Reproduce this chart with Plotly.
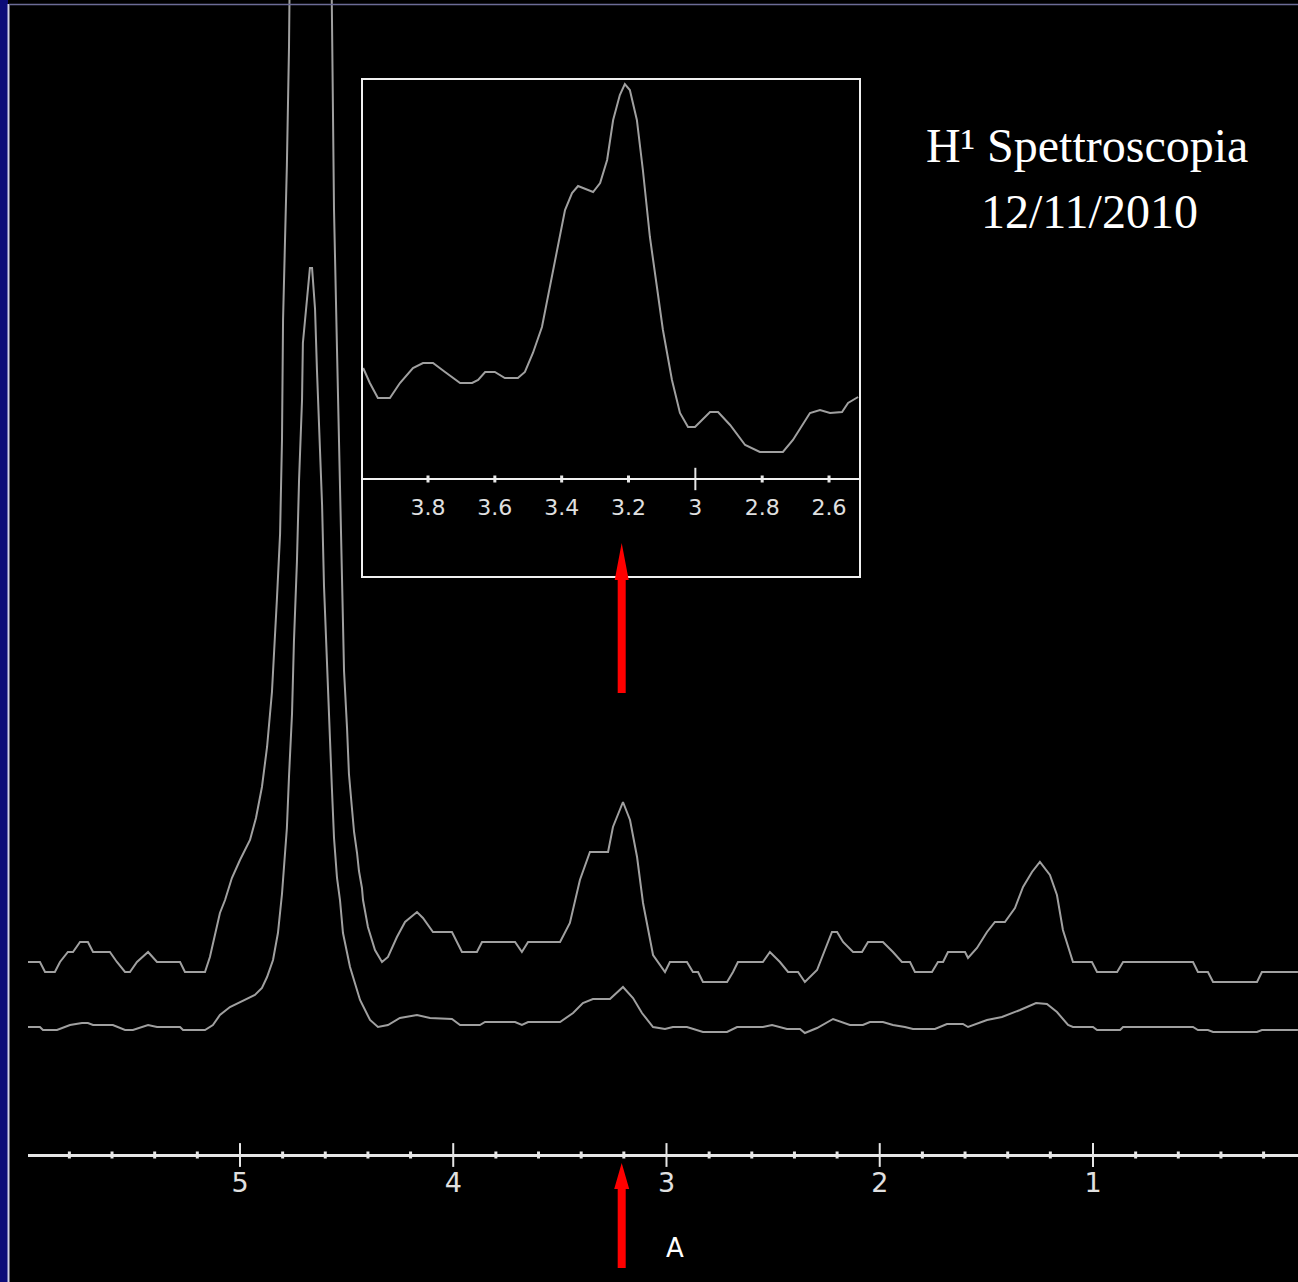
import plotly.graph_objects as go

# Upper (scaled) spectrum: chemical shift (ppm) and intensity (a.u.)
upper_ppm = [5.994, 5.938, 5.914, 5.868, 5.844, 5.807, 5.783, 5.750, 5.713, 5.689,
             5.610, 5.577, 5.539, 5.516, 5.483, 5.431, 5.389, 5.281, 5.258, 5.164,
             5.141, 5.117, 5.094, 5.070, 5.038, 5.000, 4.953, 4.925, 4.897, 4.873,
             4.850, 4.827, 4.812, 4.803, 4.798, 4.780, 4.770, 4.672, 4.569, 4.559,
             4.545, 4.531, 4.522, 4.512, 4.498, 4.489, 4.475, 4.465, 4.451, 4.442,
             4.428, 4.423, 4.400, 4.367, 4.334, 4.306, 4.264, 4.226, 4.170, 4.142,
             4.095, 4.006, 3.959, 3.889, 3.865, 3.710, 3.678, 3.649, 3.499, 3.453,
             3.406, 3.359, 3.274, 3.251, 3.204, 3.171, 3.138, 3.110, 3.063, 3.007,
             2.984, 2.904, 2.876, 2.852, 2.829, 2.716, 2.688, 2.665, 2.548, 2.515,
             2.468, 2.430, 2.383, 2.351, 2.294, 2.224, 2.200, 2.172, 2.125, 2.083,
             2.055, 1.985, 1.938, 1.896, 1.858, 1.835, 1.755, 1.727, 1.703, 1.680,
             1.600, 1.586, 1.544, 1.497, 1.460, 1.413, 1.366, 1.328, 1.286, 1.249,
             1.202, 1.169, 1.141, 1.094, 1.005, 0.981, 0.887, 0.859, 0.531, 0.508,
             0.461, 0.437, 0.231, 0.208, 0.039]
upper_int = [193, 193, 183, 183, 193, 203, 203, 213, 213, 203,
             203, 193, 183, 183, 193, 203, 193, 193, 183, 183,
             198, 222, 242, 255, 277, 295, 315, 337, 368, 408,
             463, 555, 621, 715, 835, 990, 1109, 3200, 1115, 945,
             805, 661, 563, 484, 427, 381, 347, 323, 302, 284,
             267, 255, 228, 205, 193, 198, 218, 233, 243, 237,
             223, 223, 203, 203, 213, 213, 203, 213, 213, 232,
             275, 303, 303, 328, 353, 335, 298, 252, 200, 183,
             193, 193, 183, 183, 173, 173, 183, 193, 193, 203,
             193, 183, 183, 173, 185, 223, 223, 213, 203, 203,
             213, 213, 203, 193, 193, 183, 183, 193, 193, 203,
             203, 197, 207, 223, 233, 233, 247, 268, 283, 293,
             280, 260, 225, 193, 193, 183, 183, 193, 193, 183,
             183, 173, 173, 183, 183]

# Lower (unscaled) spectrum
lower_ppm = [5.994, 5.938, 5.924, 5.858, 5.797, 5.741, 5.713, 5.689, 5.596, 5.539,
             5.502, 5.431, 5.389, 5.281, 5.267, 5.164, 5.127, 5.094, 5.047, 5.000,
             4.930, 4.897, 4.873, 4.845, 4.822, 4.803, 4.794, 4.780, 4.770, 4.756,
             4.747, 4.733, 4.723, 4.709, 4.705, 4.686, 4.672, 4.662, 4.648, 4.639,
             4.629, 4.615, 4.606, 4.592, 4.583, 4.569, 4.559, 4.545, 4.531, 4.517,
             4.484, 4.437, 4.390, 4.353, 4.306, 4.250, 4.170, 4.109, 4.006, 3.968,
             3.875, 3.851, 3.710, 3.678, 3.649, 3.499, 3.438, 3.392, 3.345, 3.265,
             3.204, 3.157, 3.115, 3.063, 3.007, 2.970, 2.904, 2.829, 2.716, 2.669,
             2.548, 2.505, 2.435, 2.374, 2.351, 2.294, 2.219, 2.140, 2.079, 2.046,
             1.985, 1.938, 1.882, 1.844, 1.741, 1.685, 1.610, 1.586, 1.497, 1.427,
             1.342, 1.267, 1.216, 1.169, 1.117, 1.094, 1.000, 0.981, 0.873, 0.859,
             0.531, 0.508, 0.461, 0.437, 0.231, 0.208, 0.039]
lower_int = [128, 128, 125, 125, 130, 132, 132, 130, 130, 125,
             125, 130, 128, 128, 125, 125, 130, 140, 148, 153,
             160, 167, 178, 195, 222, 261, 287, 327, 379, 441,
             513, 593, 675, 755, 812, 858, 887, 887, 846, 785,
             726, 650, 569, 493, 427, 367, 317, 277, 255, 222,
             188, 155, 135, 128, 130, 137, 140, 137, 136, 130,
             130, 133, 133, 130, 133, 133, 142, 152, 156, 156,
             168, 157, 142, 128, 126, 128, 128, 123, 123, 128,
             128, 130, 126, 126, 122, 127, 136, 130, 130, 133,
             133, 130, 128, 126, 126, 131, 131, 128, 135, 138,
             145, 152, 151, 143, 130, 128, 128, 125, 125, 128,
             128, 125, 125, 123, 123, 125, 125]

# Inset: zoom on 4.0 - 2.5 ppm
inset_ppm = [3.994, 3.974, 3.950, 3.914, 3.884, 3.845, 3.815, 3.785, 3.749, 3.704,
             3.668, 3.650, 3.629, 3.600, 3.570, 3.531, 3.510, 3.486, 3.459, 3.435,
             3.411, 3.390, 3.369, 3.351, 3.306, 3.285, 3.264, 3.246, 3.226, 3.211,
             3.196, 3.175, 3.157, 3.136, 3.115, 3.097, 3.070, 3.046, 3.022, 3.001,
             2.956, 2.932, 2.896, 2.851, 2.807, 2.738, 2.708, 2.657, 2.627, 2.597,
             2.561, 2.543, 2.513]
inset_int = [111, 96, 81, 81, 96, 111, 116, 116, 107, 96,
             96, 99, 107, 107, 101, 101, 107, 126, 152, 192,
             232, 269, 286, 293, 287, 296, 319, 359, 384, 395,
             389, 359, 309, 242, 192, 149, 99, 66, 52, 52,
             67, 67, 54, 34, 27, 27, 39, 66, 69, 66,
             67, 76, 82]

main_major = [5, 4, 3, 2, 1]
main_labels = ["5", "4", "3", "2", "1"]
main_minor = [5.8, 5.6, 5.4, 5.2, 4.8, 4.6, 4.4, 4.2, 3.8, 3.6, 3.4, 3.2,
              2.8, 2.6, 2.4, 2.2, 1.8, 1.6, 1.4, 1.2, 0.8, 0.6, 0.4, 0.2]
inset_major = [3]
inset_minor = [3.8, 3.6, 3.4, 3.2, 2.8, 2.6]
inset_tickvals = [3.8, 3.6, 3.4, 3.2, 3, 2.8, 2.6]
inset_labels = ["3.8", "3.6", "3.4", "3.2", "3", "2.8", "2.6"]

arrow_ppm = 3.21
arrow_label = "A"

TRACE = "#a0a0a0"
AXIS = "#e6e6e6"
LABEL = "#e0e0e0"
W, H = 1298, 1282


def arrow_path(head_len, head_half, shaft_half, total):
    # tip at (0, 0), pointing up, pixel units
    return (f"M0,0 L{head_half},{-head_len} L{shaft_half},{-head_len} "
            f"L{shaft_half},{-total} L{-shaft_half},{-total} L{-shaft_half},{-head_len} "
            f"L{-head_half},{-head_len} Z")


fig = go.Figure()
fig.add_trace(go.Scatter(x=upper_ppm, y=upper_int, mode="lines",
                         line=dict(color=TRACE, width=2)))
fig.add_trace(go.Scatter(x=lower_ppm, y=lower_int, mode="lines",
                         line=dict(color=TRACE, width=2)))
# axis tick marks (both sides of the line)
fig.add_trace(go.Scatter(x=main_major, y=[0] * len(main_major), mode="markers",
                         marker=dict(symbol="line-ns", size=17,
                                     line=dict(color=AXIS, width=2))))
fig.add_trace(go.Scatter(x=main_minor, y=[0] * len(main_minor), mode="markers",
                         marker=dict(symbol="line-ns", size=5,
                                     line=dict(color=AXIS, width=3))))

fig.add_trace(go.Scatter(x=inset_ppm, y=inset_int, mode="lines",
                         line=dict(color=TRACE, width=2), xaxis="x2", yaxis="y2"))
fig.add_trace(go.Scatter(x=inset_major, y=[0] * len(inset_major), mode="markers",
                         marker=dict(symbol="line-ns", size=16,
                                     line=dict(color=AXIS, width=2)),
                         xaxis="x2", yaxis="y2"))
fig.add_trace(go.Scatter(x=inset_minor, y=[0] * len(inset_minor), mode="markers",
                         marker=dict(symbol="line-ns", size=5,
                                     line=dict(color=AXIS, width=3)),
                         xaxis="x2", yaxis="y2"))

fig.update_layout(
    width=W, height=H,
    margin=dict(l=0, r=0, t=0, b=0),
    paper_bgcolor="black", plot_bgcolor="black",
    showlegend=False,
    xaxis=dict(domain=[28 / W, 1], range=[5.994, 0.0387],
               anchor="free", position=127 / H,
               showline=True, linecolor=AXIS, linewidth=3,
               showgrid=False, zeroline=False, ticks="",
               tickvals=main_major, ticktext=main_labels,
               tickfont=dict(family="DejaVu Sans", size=27, color=LABEL),
               ticklabelstandoff=3),
    yaxis=dict(domain=[0, 1], range=[-127, 1155], visible=False),
    xaxis2=dict(domain=[362 / W, 860 / W], range=[3.9975, 2.5073],
                anchor="free", position=803 / H,
                showline=True, linecolor="#f0f0f0", linewidth=2,
                showgrid=False, zeroline=False, ticks="",
                tickvals=inset_tickvals, ticktext=inset_labels,
                tickfont=dict(family="DejaVu Sans", size=22, color=LABEL),
                ticklabelstandoff=9),
    yaxis2=dict(domain=[(H - 577) / H, (H - 79) / H], range=[-98, 400],
                visible=False, anchor="x2"),
)

shapes = [
    # inset frame
    dict(type="rect", xref="x2 domain", yref="y2 domain", x0=0, x1=1, y0=0, y1=1,
         line=dict(color="#f0f0f0", width=2)),
    # slide border on the left and top
    dict(type="rect", xref="paper", yref="paper", x0=0, x1=8 / W, y0=0, y1=1,
         fillcolor="#0c0c78", line=dict(width=0), layer="above"),
    dict(type="line", xref="paper", yref="paper", x0=8.5 / W, x1=8.5 / W,
         y0=0, y1=(H - 4) / H, line=dict(color="#d0d0e6", width=2)),
    dict(type="line", xref="paper", yref="paper", x0=9 / W, x1=1,
         y0=(H - 4.5) / H, y1=(H - 4.5) / H, line=dict(color="#6c6c96", width=1.5)),
    # red arrows
    dict(type="path", xref="x", yref="y", xsizemode="pixel", ysizemode="pixel",
         xanchor=arrow_ppm, yanchor=612, path=arrow_path(37, 7, 4, 150),
         fillcolor="#ff0000", line=dict(width=0)),
    dict(type="path", xref="x", yref="y", xsizemode="pixel", ysizemode="pixel",
         xanchor=arrow_ppm, yanchor=-8, path=arrow_path(26, 7.5, 4, 105),
         fillcolor="#ff0000", line=dict(width=0)),
]
fig.update_layout(shapes=shapes)

fig.add_annotation(text="H\u00b9 Spettroscopia", xref="paper", yref="paper",
                   x=1087 / W, y=(H - 145) / H, xanchor="center", yanchor="middle",
                   showarrow=False,
                   font=dict(family="Liberation Serif", size=48, color="white"))
fig.add_annotation(text="12/11/2010", xref="paper", yref="paper",
                   x=1089 / W, y=(H - 211) / H, xanchor="center", yanchor="middle",
                   showarrow=False,
                   font=dict(family="Liberation Serif", size=48, color="white"))
fig.add_annotation(text=arrow_label, xref="x", yref="y", x=2.96, y=-93,
                   xanchor="center", yanchor="middle", showarrow=False,
                   font=dict(family="DejaVu Sans", size=26, color="white"))

fig.write_html("out.html", config={"displayModeBar": False},
               post_script="document.body.style.margin='0';")
